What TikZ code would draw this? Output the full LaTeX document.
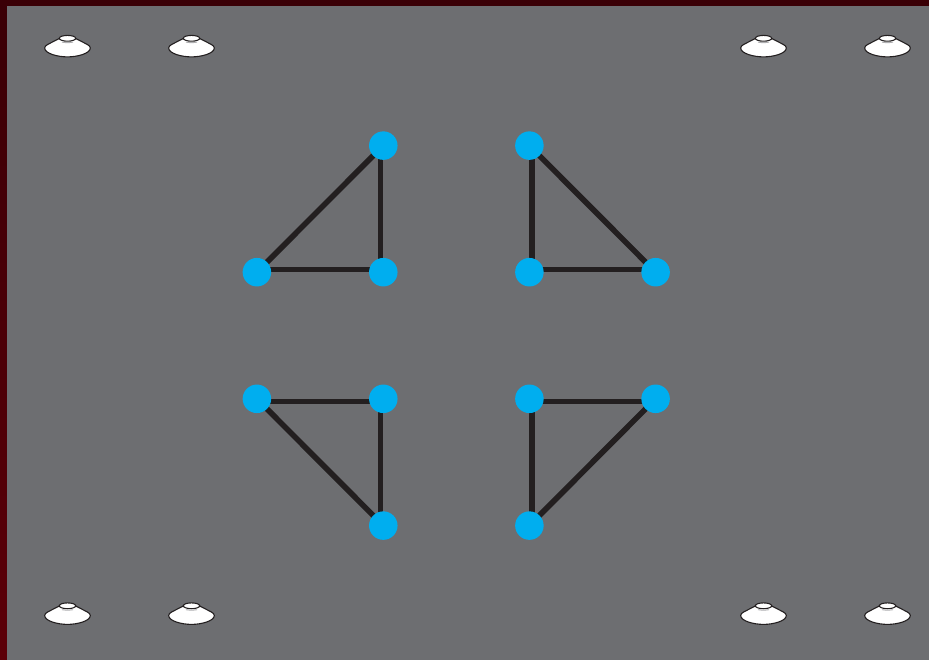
\documentclass[tikz,border=0pt]{standalone}
\pgfdeclarelayer{panel}
\pgfdeclarelayer{edges}
\pgfsetlayers{panel,edges,main}
\definecolor{panelgray}{HTML}{6D6E71}
\definecolor{dotblue}{HTML}{00AEEF}
\definecolor{edgeblack}{HTML}{231F20}
\definecolor{framedark}{HTML}{3A0006}
\definecolor{framered}{HTML}{5C0008}
\tikzset{
  dot/.style={circle,fill=dotblue,draw=none,inner sep=0pt,minimum size=28.5pt},
  edge/.style={draw=edgeblack,line width=5.6pt},
  pics/marker/.style={code={
    \draw[fill=white,draw=edgeblack,line width=1.1pt]
      (-8.2,-8) -- (-19.5,-2.2) .. controls (-21.8,-1) and (-22.8,0) .. (-22.8,1.5)
      .. controls (-22.8,7) and (-10,10.4) .. (0,10.4)
      .. controls (10,10.4) and (22.8,7) .. (22.8,1.5)
      .. controls (22.8,0) and (21.8,-1) .. (19.5,-2.2) -- (8.2,-8) -- cycle;
    \draw[fill=white,draw=edgeblack,line width=1.1pt] (0,-8.2) ellipse [x radius=8.2,y radius=2.9];
    \draw[draw=panelgray!55,line width=.9pt] (-5.5,-4.3) .. controls (-2,-3.7) and (2,-3.7) .. (5.5,-4.3);
  }}
}
\begin{document}
\begin{tikzpicture}[x=1pt,y=-1pt]
\useasboundingbox (0,0) rectangle (929,660);
\begin{pgfonlayer}{panel}
  \shade[top color=framedark,bottom color=framered,draw=none] (0,0) rectangle (929,660);
  \fill[panelgray] (7,6) rectangle (929,660);
\end{pgfonlayer}

\foreach \px in {67.5,191.5,763.5,887.5}{
  \pic at (\px,46.5) {marker};
  \pic at (\px,614) {marker};
}

% upper left
\node[dot] (a1) at (383.3,145.6) {};
\node[dot] (a2) at (256.9,272.2) {};
\node[dot] (a3) at (383.3,272.2) {};
% upper right
\node[dot] (b1) at (529.4,145.6) {};
\node[dot] (b2) at (529.4,272.2) {};
\node[dot] (b3) at (655.6,272.2) {};
% lower left
\node[dot] (c1) at (256.9,398.8) {};
\node[dot] (c2) at (383.3,398.8) {};
\node[dot] (c3) at (383.3,525.6) {};
% lower right
\node[dot] (d1) at (529.4,398.8) {};
\node[dot] (d2) at (655.6,398.8) {};
\node[dot] (d3) at (529.4,525.6) {};

\begin{pgfonlayer}{edges}
  \draw[edge] (a1.center) -- (a2.center);
  \draw[edge] ([xshift=-2.7pt]a1.center) -- ([xshift=-2.7pt]a3.center);
  \draw[edge] ([yshift=2.6pt]a2.center) -- ([yshift=2.6pt]a3.center);

  \draw[edge] (b1.center) -- (b3.center);
  \draw[edge] ([xshift=2.7pt]b1.center) -- ([xshift=2.7pt]b2.center);
  \draw[edge] ([yshift=2.6pt]b2.center) -- ([yshift=2.6pt]b3.center);

  \draw[edge] (c1.center) -- (c3.center);
  \draw[edge] ([yshift=-2.6pt]c1.center) -- ([yshift=-2.6pt]c2.center);
  \draw[edge] ([xshift=-2.7pt]c2.center) -- ([xshift=-2.7pt]c3.center);

  \draw[edge] (d2.center) -- (d3.center);
  \draw[edge] ([yshift=-2.6pt]d1.center) -- ([yshift=-2.6pt]d2.center);
  \draw[edge] ([xshift=2.7pt]d1.center) -- ([xshift=2.7pt]d3.center);
\end{pgfonlayer}
\end{tikzpicture}
\end{document}
